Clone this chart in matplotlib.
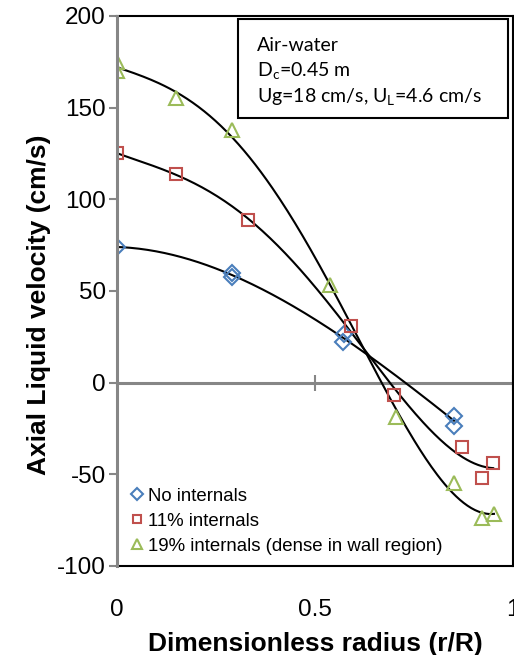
import numpy as np
import matplotlib.pyplot as plt
from matplotlib.patches import Rectangle

# radial position (r/R) and axial liquid velocity (cm/s)
r_none = [0.0, 0.29, 0.29, 0.573, 0.57, 0.851, 0.851]
v_none = [74, 60, 57.5, 26.8, 22, -18, -23.5]

r_11 = [0.0, 0.149, 0.33, 0.59, 0.70, 0.871, 0.95, 0.921]
v_11 = [125, 114, 88.5, 31, -7, -35, -44, -52]

r_19 = [0.0, 0.0, 0.149, 0.29, 0.538, 0.704, 0.851, 0.922, 0.952]
v_19 = [175, 170, 155, 137.7, 53.5, -18.6, -54.5, -74, -71.7]

labels = ['No internals', '11% internals', '19% internals (dense in wall region)']
colors = ['#4A7EBB', '#C0504D', '#9BBB59']
markers = ['D', 's', '^']
msizes = [8.5, 8, 10]
fit_order = [3, 4, 4]

info_lines = ['Air-water',
              'D$_\\mathregular{c}$=0.45 m',
              'Ug=18 cm/s, U$_\\mathregular{L}$=4.6 cm/s']

plt.rcParams['font.family'] = ['Liberation Sans', 'DejaVu Sans']
plt.rcParams['axes.unicode_minus'] = False
plt.rcParams['mathtext.fontset'] = 'custom'
plt.rcParams['mathtext.rm'] = 'Lato'

fig = plt.figure(figsize=(5.14, 6.55), dpi=100)
ax = fig.add_axes([0.2276, 0.1359, 0.7704, 0.8397])

series = [(r_none, v_none), (r_11, v_11), (r_19, v_19)]
for (r, v), lab, c, m, ms, k in zip(series, labels, colors, markers, msizes, fit_order):
    ax.plot(r, v, linestyle='none', marker=m, markersize=ms, markerfacecolor='none',
            markeredgecolor=c, markeredgewidth=1.5, label=lab, zorder=4)
    # polynomial trendline
    coef = np.polyfit(r, v, k)
    rr = np.linspace(0, max(r), 200)
    ax.plot(rr, np.polyval(coef, rr), color='black', lw=1.5, zorder=3)

ax.set_xlim(0, 1)
ax.set_ylim(-100, 200)
ax.set_yticks([-100, -50, 0, 50, 100, 150, 200])
ax.set_xticks([0, 0.5, 1])
ax.set_xticklabels(['0', '0.5', '1'])
ax.tick_params(axis='y', direction='out', length=6, width=1.5, color='#868686',
               labelsize=17.5, pad=2)
ax.tick_params(axis='x', length=0, labelsize=17.5, pad=24)

for side in ['top', 'right', 'bottom']:
    ax.spines[side].set_color('black')
    ax.spines[side].set_linewidth(1.5)
ax.spines['left'].set_color('#868686')
ax.spines['left'].set_linewidth(2.2)
ax.spines['left'].set_zorder(5)

# horizontal axis line through zero
sec = ax.secondary_xaxis(1 / 3)
sec.set_xticks([0.5, 1])
sec.tick_params(direction='inout', length=12, width=1.5, color='#868686', labelbottom=False)
sec.spines['bottom'].set_color('#868686')
sec.spines['bottom'].set_linewidth(2.2)

ax.set_xlabel('Dimensionless radius (r/R)', fontsize=19, fontweight='bold', labelpad=8)
ax.set_ylabel('Axial Liquid velocity (cm/s)', fontsize=19, fontweight='bold', labelpad=4)
ax.yaxis.label.set_y(0.475)

ax.legend(loc='lower left', frameon=False, fontsize=13.4, markerscale=0.75,
          handlelength=0.94, handletextpad=0.12, labelspacing=0.43,
          borderaxespad=0.2, borderpad=0.4)

# conditions box
ax.add_patch(Rectangle((0.306, 0.8145), 0.681, 0.18, transform=ax.transAxes,
                       facecolor='white', edgecolor='black', lw=1.5, zorder=6))
for i, line in enumerate(info_lines):
    ax.text(0.3535, 0.937 - 0.0472 * i, line, transform=ax.transAxes, fontsize=14,
            family='Lato', va='baseline', ha='left', zorder=7)

fig.savefig('out.png', dpi=100)
